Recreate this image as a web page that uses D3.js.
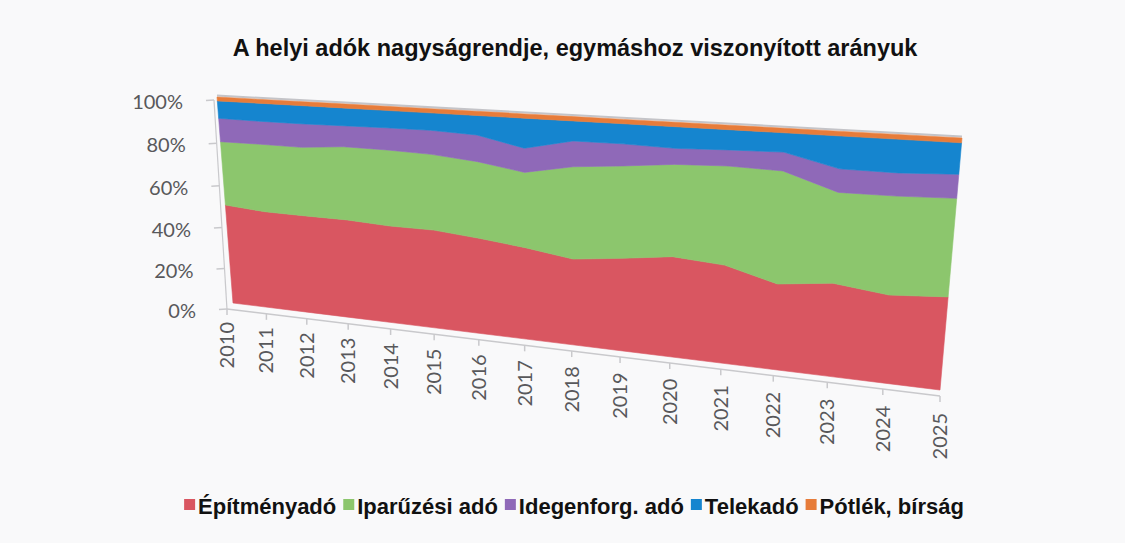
<!DOCTYPE html>
<html>
<head>
<meta charset="utf-8">
<script src="https://cdn.jsdelivr.net/npm/d3@7"></script>
<style>
  body { margin: 0; background: #f9f9fa; }
  svg { display: block; }
</style>
</head>
<body>
<svg id="chart" width="1125" height="543"></svg>
<script>
// data, shares in percent
let years      = [2010, 2011, 2012, 2013, 2014, 2015, 2016, 2017, 2018, 2019, 2020, 2021, 2022, 2023, 2024, 2025];
let epitmeny   = [48.7, 47.2, 47.0, 46.9, 45.9, 45.9, 44.1, 41.8, 38.8, 41.2, 44.0, 42.5, 36.7, 39.3, 36.7, 38.3];
let iparuzesi  = [30.4, 32.0, 32.1, 33.8, 34.7, 34.1, 34.1, 33.2, 40.1, 39.5, 38.8, 41.1, 46.4, 36.8, 39.6, 38.8];
let idegenforg = [11.0, 10.7, 10.8,  9.5,  9.9, 10.6, 11.6, 10.4, 10.9,  9.2,  6.6,  6.5,  7.5,  9.3,  9.0,  9.2];
let telek      = [ 8.1,  8.3,  8.3,  8.0,  7.7,  7.6,  8.4, 12.8,  8.4,  8.3,  8.8,  8.1,  7.6, 12.8, 12.9, 11.9];
let potlek     = [ 1.8,  1.8,  1.8,  1.8,  1.8,  1.8,  1.8,  1.8,  1.8,  1.8,  1.8,  1.8,  1.8,  1.8,  1.8,  1.8];
let seriesNames = ["Építményadó", "Iparűzési adó", "Idegenforg. adó", "Telekadó", "Pótlék, bírság"];
let yTicks = [0, 20, 40, 60, 80, 100];

let colors = ["#d95661", "#8cc66d", "#8f69b8", "#1585cf", "#e77c3a"];

let svg = d3.select("#chart");

// perspective map of the unit square onto a quadrilateral (3d look of the excel chart)
function quad(p00, p10, p11, p01) {
  let [x0, y0] = p00, [x1, y1] = p10, [x2, y2] = p11, [x3, y3] = p01;
  let dx1 = x1 - x2, dx2 = x3 - x2, dx3 = x0 - x1 + x2 - x3;
  let dy1 = y1 - y2, dy2 = y3 - y2, dy3 = y0 - y1 + y2 - y3;
  let den = dx1 * dy2 - dx2 * dy1;
  let g = (dx3 * dy2 - dx2 * dy3) / den, h = (dx1 * dy3 - dx3 * dy1) / den;
  let a = x1 - x0 + g * x1, b = x3 - x0 + h * x3, c = x0;
  let d = y1 - y0 + g * y1, e = y3 - y0 + h * y3, f = y0;
  return function(u, v) {
    let w = g * u + h * v + 1;
    return [(a * u + b * v + c) / w, (d * u + e * v + f) / w];
  };
}

// plane of the areas and front plane of the axes
let face  = quad([233, 303], [940, 390], [962, 138], [217, 97]);
let front = quad([227, 309], [940, 396], [962, 143], [214, 100]);

let x = d3.scaleLinear().domain([2010, 2025]).range([0, 1]);
let y = d3.scaleLinear().domain([0, 100]).range([0, 1]);

// build rows for the stack
let rows = years.map(function(yr, i) {
  return {
    year: yr,
    "Építményadó": epitmeny[i],
    "Iparűzési adó": iparuzesi[i],
    "Idegenforg. adó": idegenforg[i],
    "Telekadó": telek[i],
    "Pótlék, bírság": potlek[i]
  };
});

let stacked = d3.stack().keys(seriesNames).offset(d3.stackOffsetExpand)(rows);

let area = d3.area()
  .x0(d => face(x(d.data.year), d[0])[0])
  .y0(d => face(x(d.data.year), d[0])[1])
  .x1(d => face(x(d.data.year), d[1])[0])
  .y1(d => face(x(d.data.year), d[1])[1]);

// top rim of the 3d block
svg.append("line")
  .attr("x1", face(0, 1)[0]).attr("y1", face(0, 1)[1] - 1.5)
  .attr("x2", face(1, 1)[0]).attr("y2", face(1, 1)[1] - 1.5)
  .attr("stroke", "#c4c4c8")
  .attr("stroke-width", 2);

svg.append("g")
  .selectAll("path")
  .data(stacked)
  .join("path")
  .attr("d", area)
  .attr("fill", (d, i) => colors[i])
  .attr("stroke", (d, i) => colors[i])
  .attr("stroke-width", 0.6);

// y axis on the front plane
let axisColor = "#c9c9cc";
let yAxis = svg.append("g");
yAxis.append("line")
  .attr("x1", front(0, 0)[0]).attr("y1", front(0, 0)[1])
  .attr("x2", front(0, 1)[0]).attr("y2", front(0, 1)[1])
  .attr("stroke", axisColor).attr("stroke-width", 1.2);
yTicks.forEach(function(t) {
  let p = front(0, y(t));
  yAxis.append("line")
    .attr("x1", p[0]).attr("y1", p[1])
    .attr("x2", p[0] - 8).attr("y2", p[1] + 0.5)
    .attr("stroke", axisColor).attr("stroke-width", 1.5);
  yAxis.append("text")
    .attr("x", p[0] - 31).attr("y", p[1] + 9)
    .attr("text-anchor", "end")
    .attr("font-family", "Lato, 'Open Sans', sans-serif")
    .attr("font-size", 20)
    .attr("fill", "#58585b")
    .text(t + "%");
});

// x axis on the front plane
let xAxis = svg.append("g");
xAxis.append("line")
  .attr("x1", front(0, 0)[0]).attr("y1", front(0, 0)[1])
  .attr("x2", front(1, 0)[0]).attr("y2", front(1, 0)[1])
  .attr("stroke", axisColor).attr("stroke-width", 1.5);
years.forEach(function(yr) {
  let p = front(x(yr), 0);
  xAxis.append("line")
    .attr("x1", p[0]).attr("y1", p[1])
    .attr("x2", p[0]).attr("y2", p[1] + 6)
    .attr("stroke", axisColor).attr("stroke-width", 1.5);
  xAxis.append("text")
    .attr("transform", `translate(${p[0] + 7},${p[1] + 13 + x(yr) * 4}) rotate(-90)`)
    .attr("text-anchor", "end")
    .attr("font-family", "Lato, 'Open Sans', sans-serif")
    .attr("font-size", 20)
    .attr("fill", "#58585b")
    .text(yr);
});

// title
svg.append("text")
  .attr("x", 575).attr("y", 56)
  .attr("text-anchor", "middle")
  .attr("font-family", "'Liberation Sans', Arial, sans-serif")
  .attr("font-weight", "bold")
  .attr("font-size", 23.5)
  .attr("fill", "#111")
  .text("A helyi adók nagyságrendje, egymáshoz viszonyított arányuk");

// legend
let legend = svg.append("g");
let lx = 0;
seriesNames.forEach(function(name, i) {
  let item = legend.append("g").attr("transform", `translate(${lx},0)`);
  item.append("rect")
    .attr("x", 0).attr("y", -15)
    .attr("width", 11).attr("height", 11)
    .attr("fill", colors[i]);
  let t = item.append("text")
    .attr("x", 14).attr("y", 0)
    .attr("font-family", "'Liberation Sans', Arial, sans-serif")
    .attr("font-weight", "bold")
    .attr("font-size", 22)
    .attr("fill", "#111")
    .text(name);
  lx += 14 + t.node().getComputedTextLength() + 7;
});
lx -= 7;
legend.attr("transform", `translate(${574 - lx / 2},514)`);
</script>
</body>
</html>
